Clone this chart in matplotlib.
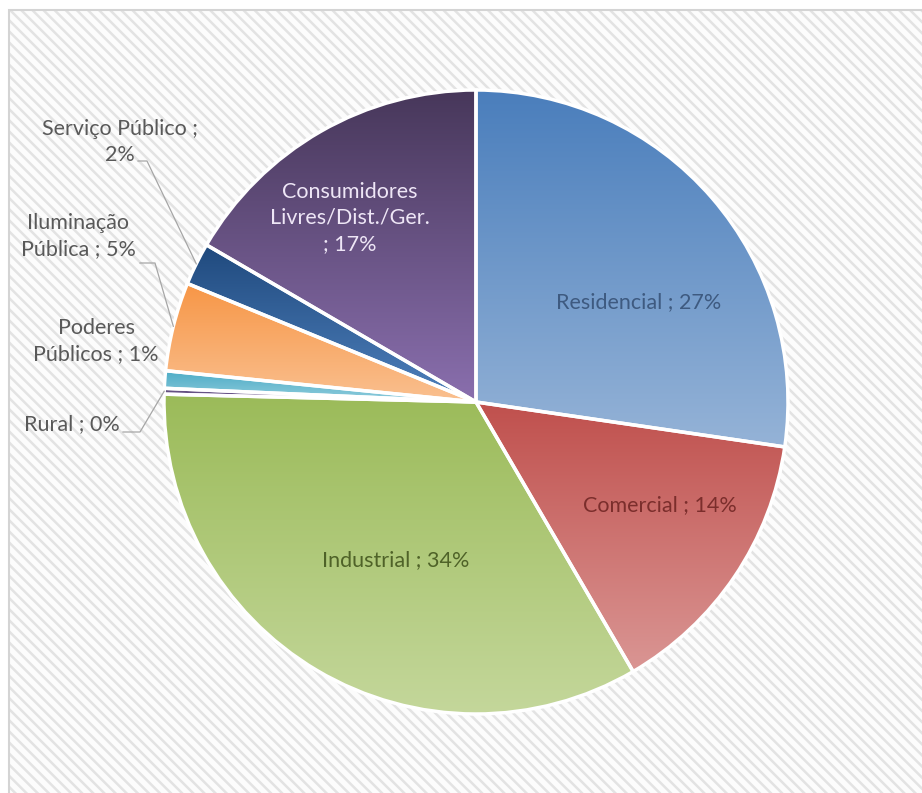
import numpy as np
import matplotlib
matplotlib.use("Agg")
import matplotlib.pyplot as plt
from matplotlib.patches import Rectangle
from matplotlib.colors import LinearSegmentedColormap

# ==========================================
# DATA
# ==========================================
categories = [
    "Residencial",
    "Comercial",
    "Industrial",
    "Rural",
    "Poderes\nPúblicos",
    "Iluminação\nPública",
    "Serviço Público",
    "Consumidores\nLivres/Dist./Ger.\n",
]
shares = [27.3, 14.3, 33.8, 0.3, 0.9, 4.6, 2.2, 16.6]

# top colour, bottom colour of each slice gradient
top_colors = ["#4A7EBC", "#C0504D", "#9BBB59", "#5B4A78", "#4BACC6", "#F79646", "#1F497D", "#47375A"]
bottom_colors = ["#95B3D7", "#DA9694", "#C4D79B", "#8064A2", "#93CDDD", "#FAC090", "#4F81BD", "#8A6FAE"]

# ==========================================
# LAYOUT
# ==========================================
W, H = 922, 793
CX, CY, R = 476, H - 402, 312
FONT = ["Lato", "DejaVu Sans"]
FS = 15.5
GRAY = "#595959"

plt.rcParams["hatch.linewidth"] = 1.8

fig = plt.figure(figsize=(W / 100, H / 100), dpi=100)
ax = fig.add_axes([0, 0, 1, 1])

# striped chart area background
ax.add_patch(Rectangle((9, -10), W + 20, H, facecolor="#FCFCFC",
                       edgecolor="#E3E3E3", hatch="\\\\\\", linewidth=0, zorder=0))
ax.add_patch(Rectangle((9, -10), W + 20, H, facecolor="none",
                       edgecolor="#D4D4D4", linewidth=1.5, zorder=0.5))

wedges, _ = ax.pie(
    shares,
    startangle=90,
    counterclock=False,
    center=(CX, CY),
    radius=R,
    wedgeprops=dict(facecolor="none", edgecolor="white", linewidth=2.5, zorder=3),
    frame=True,
)
ax.set_xlim(0, W)
ax.set_ylim(0, H)
ax.set_aspect("equal")
ax.axis("off")

# vertical gradient fill clipped to each wedge
for w, c_top, c_bot in zip(wedges, top_colors, bottom_colors):
    ext = w.get_path().get_extents()
    cmap = LinearSegmentedColormap.from_list("g", [c_bot, c_top])
    grad = np.linspace(0, 1, 256).reshape(-1, 1)
    im = ax.imshow(grad, cmap=cmap, origin="lower", aspect="auto",
                   extent=[ext.x0, ext.x1, ext.y0, ext.y1], zorder=2,
                   interpolation="bilinear")
    im.set_clip_path(w)

labels = [f"{c} ; {v:.0f}%" for c, v in zip(categories, shares)]
labels[6] = "Serviço Público ;\n2%"
labels[7] = "Consumidores\nLivres/Dist./Ger.\n; 17%"

# inside labels: (index, text centre in px from top-left, colour)
inside = [(0, (639, 302), "#3E5A80"), (1, (660, 505), "#7B2E2C"),
          (2, (396, 560), "#4F6228"), (7, (350, 218), "#EEE6F6")]
for i, (tx, ty), col in inside:
    ax.text(tx, H - ty, labels[i], ha="center", va="center", fontsize=FS,
            color=col, family=FONT, linespacing=1.35, zorder=5)

# outside labels with leader lines: (index, text centre, leader start x, elbow x, leader y)
outside = [(3, (72, 424), 123, 140, 432),
           (4, (96, 341), None, None, None),
           (5, (78, 236), 140, 155, 263),
           (6, (120, 142), 138, 147, 161)]
for i, (tx, ty), sx, ex, ly in outside:
    w = wedges[i]
    ang = np.deg2rad((w.theta1 + w.theta2) / 2)
    px, py = CX + R * np.cos(ang), CY + R * np.sin(ang)
    ax.text(tx, H - ty, labels[i], ha="center", va="center", fontsize=FS,
            color=GRAY, family=FONT, linespacing=1.35, zorder=5)
    if sx is not None:
        ax.plot([sx, ex, px], [H - ly, H - ly, py], color="#A6A6A6",
                linewidth=0.9, zorder=4)

fig.savefig("out.png", dpi=100)
